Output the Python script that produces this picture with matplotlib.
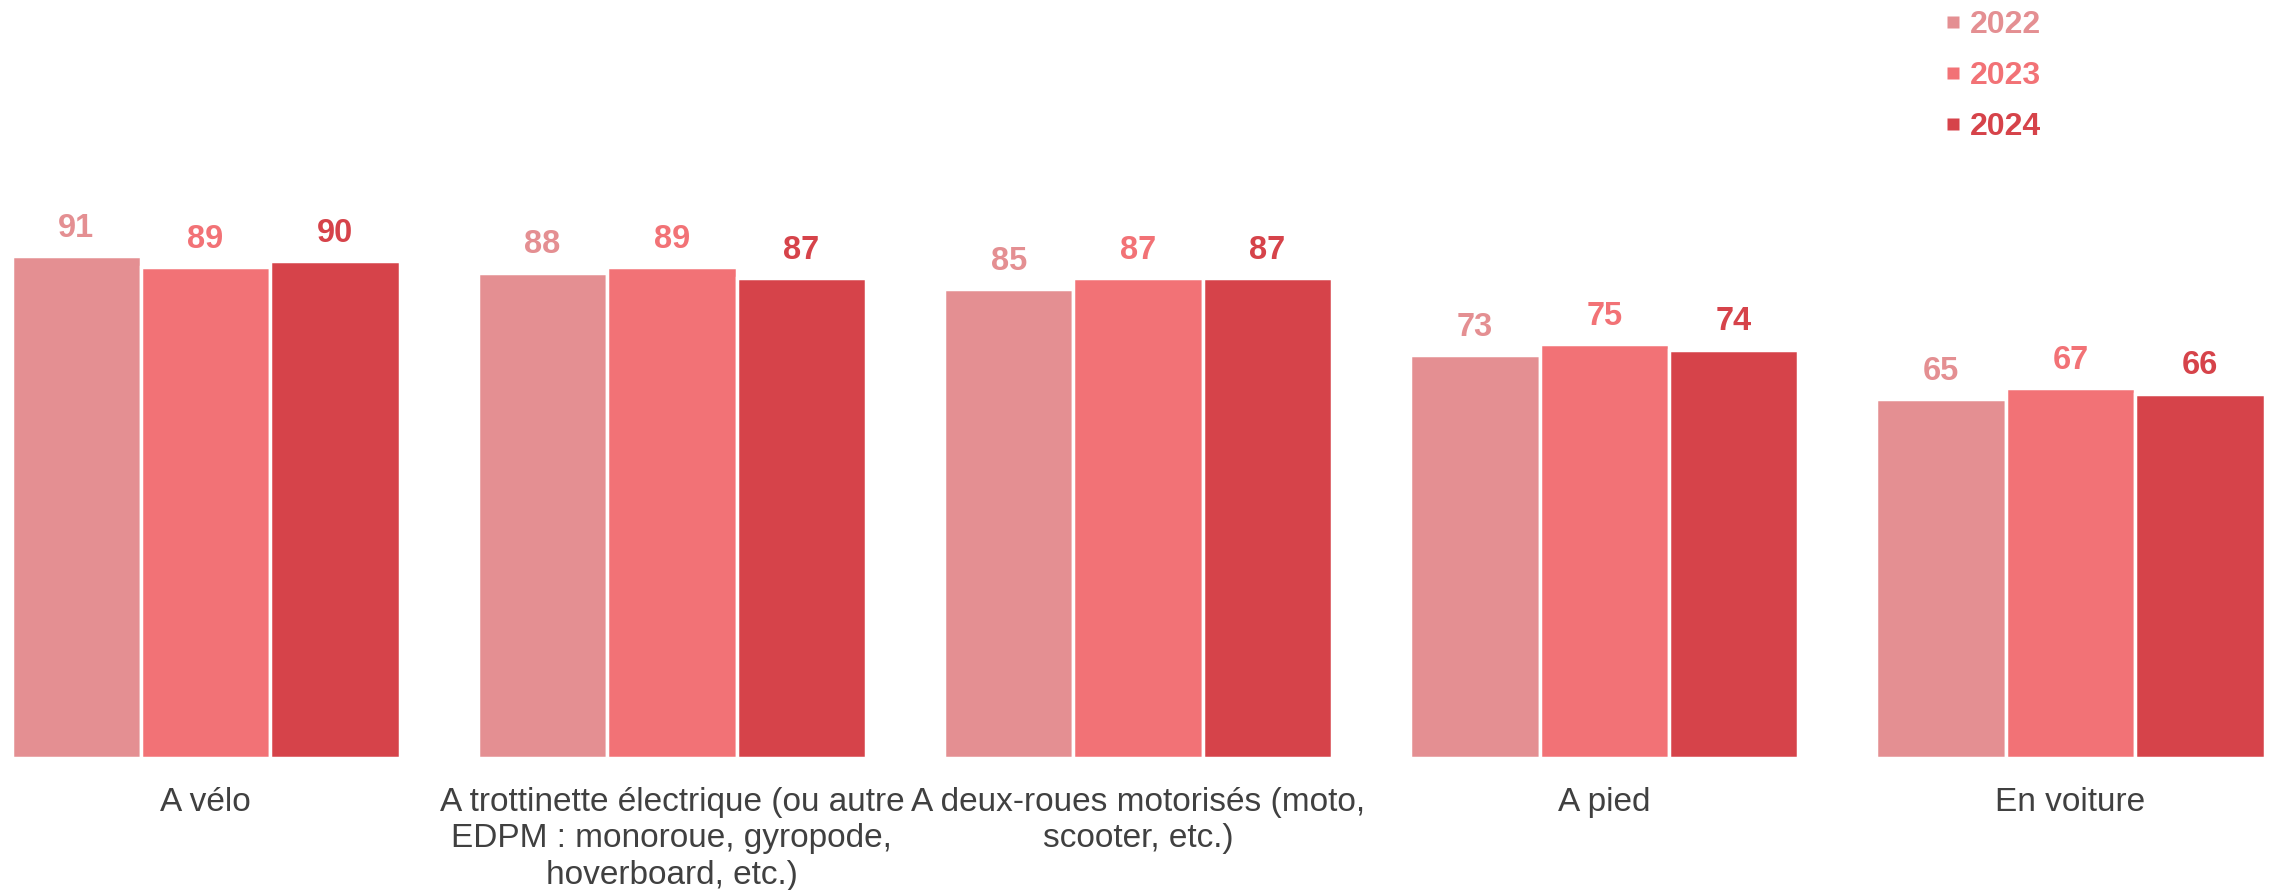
import matplotlib
matplotlib.use("Agg")
import matplotlib.pyplot as plt
import numpy as np
from matplotlib.lines import Line2D

categories = [
    "A vélo",
    "A trottinette électrique (ou autre\nEDPM : monoroue, gyropode,\nhoverboard, etc.)",
    "A deux-roues motorisés (moto,\nscooter, etc.)",
    "A pied",
    "En voiture",
]
years = ["2022", "2023", "2024"]
values_2022 = [91, 88, 85, 73, 65]
values_2023 = [89, 89, 87, 75, 67]
values_2024 = [90, 87, 87, 74, 66]
colors = ["#E48F92", "#F27276", "#D6434A"]

plt.rcParams['font.family'] = ['Liberation Sans', 'DejaVu Sans']

W, H = 2270, 890
fig = plt.figure(figsize=(W / 100, H / 100), dpi=100)
bottom_px = 758
ax = fig.add_axes([0, 1 - bottom_px / H, 1, bottom_px / H])

x = np.arange(len(categories))
bw = 0.2775
series = [values_2022, values_2023, values_2024]
for i, (vals, c) in enumerate(zip(series, colors)):
    bars = ax.bar(x + (i - 1) * bw, vals, width=bw, color=c,
                  edgecolor="white", linewidth=2.5)
    for b, v in zip(bars, vals):
        ax.annotate(str(v), (b.get_x() + b.get_width() / 2, b.get_height()),
                    xytext=(0, 14), textcoords="offset points",
                    ha="center", va="baseline", fontsize=23.5,
                    fontweight="bold", color=c)

ax.set_xlim(-0.441, 4.428)
ax.set_ylim(0, 137.4)
ax.set_xticks(x)
ax.set_xticklabels(categories, fontsize=24, color="#404040", linespacing=1.22)
ax.tick_params(axis="x", length=0, pad=21)
ax.set_yticks([])
for s in ax.spines.values():
    s.set_visible(False)

handles = [Line2D([], [], linestyle="none", marker="s", markersize=8.5,
                  markerfacecolor=c, markeredgecolor="none") for c in colors]
leg = fig.legend(handles, years, loc="upper left",
                 bbox_to_anchor=(1946 / W, 1 - 10 / H),
                 frameon=False, borderaxespad=0, borderpad=0,
                 handlelength=0.45, handletextpad=0.3,
                 labelspacing=0.66, labelcolor=colors,
                 prop={"size": 23, "weight": "bold"})

fig.savefig("out.png", dpi=100)
